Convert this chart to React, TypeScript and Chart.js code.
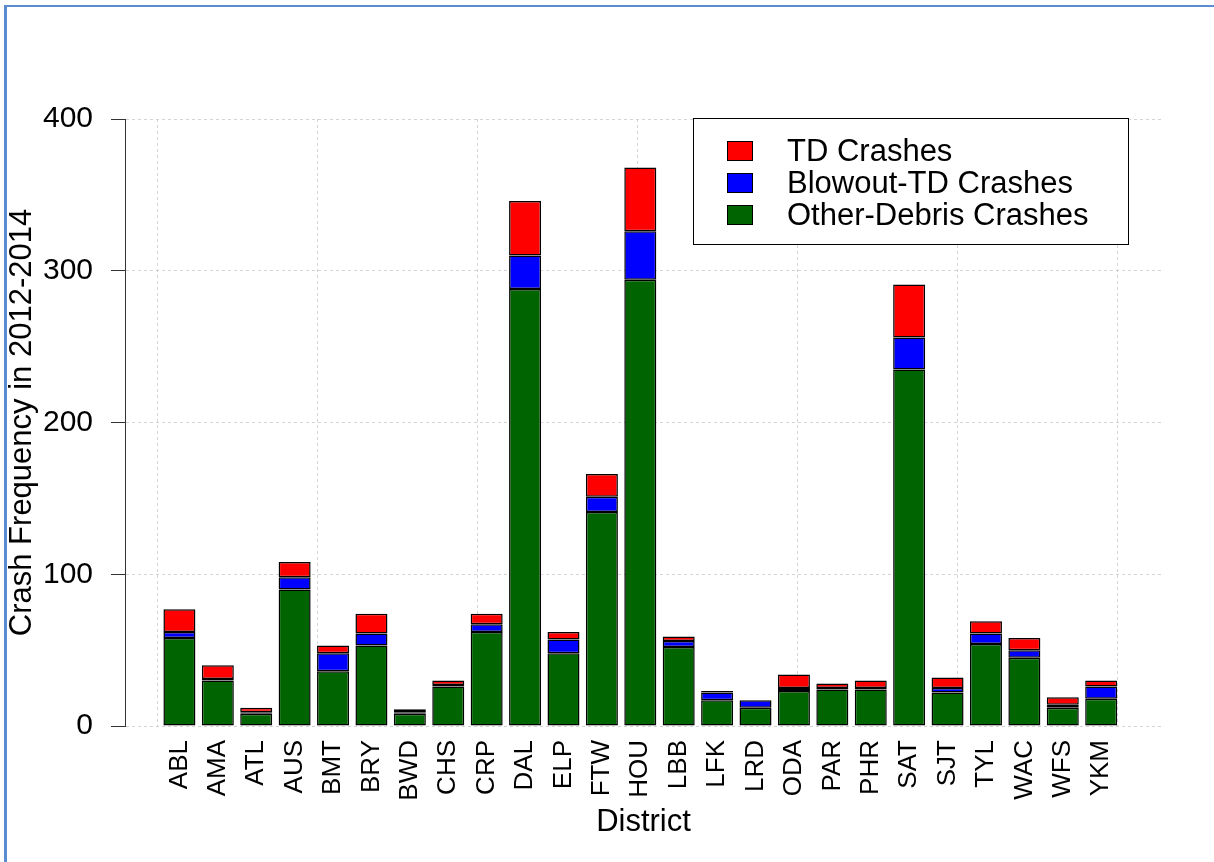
import React, { useEffect, useRef } from 'react';
import { Chart, registerables } from 'chart.js';

Chart.register(...registerables);

const districts = ['ABL', 'AMA', 'ATL', 'AUS', 'BMT', 'BRY', 'BWD', 'CHS', 'CRP', 'DAL', 'ELP', 'FTW', 'HOU', 'LBB', 'LFK', 'LRD', 'ODA', 'PAR', 'PHR', 'SAT', 'SJT', 'TYL', 'WAC', 'WFS', 'YKM'];
const otherDebrisCrashes = [58, 30, 8, 90, 36, 53, 8, 26, 62, 288, 48, 141, 294, 52, 17, 12, 23, 24, 24, 235, 22, 54, 45, 12, 18];
const blowoutTDCrashes = [4, 1, 1, 8, 12, 8, 1, 1, 5, 22, 9, 10, 32, 4, 5, 5, 2, 1, 1, 21, 3, 7, 5, 2, 8];
const tdCrashes = [15, 9, 3, 10, 5, 13, 2, 3, 7, 36, 5, 15, 42, 3, 1, 0, 9, 3, 5, 35, 7, 8, 8, 5, 4];
const yTickValues = [0, 100, 200, 300, 400];
const xGridValues = [0, 5, 10, 15, 20, 25, 30];
const seriesLabels = ['Other-Debris Crashes', 'Blowout-TD Crashes', 'TD Crashes'];
const seriesColors = ['#006400', '#0000FF', '#FF0000'];

// R barplot coordinate system: bar width 1, space 0.2
const BAR_SPACE = 0.2;
const barCenter = (i: number) => BAR_SPACE + 0.5 + i * (1 + BAR_SPACE);
const X_MIN = -1.0;
const X_MAX = 31.4;

const FONT = "'Liberation Sans', Arial, Helvetica, sans-serif";

const framePlugin = {
  id: 'frame',
  beforeDraw(chart: any) {
    const ctx = chart.ctx;
    ctx.save();
    ctx.fillStyle = '#FFFFFF';
    ctx.fillRect(0, 0, chart.width, chart.height);
    ctx.restore();
  },
  afterDraw(chart: any) {
    const ctx = chart.ctx;
    ctx.save();
    ctx.fillStyle = '#5B8BD0';
    ctx.fillRect(4, 5, chart.width - 4, 2);
    ctx.fillRect(4, 5, 3, chart.height - 5);
    ctx.restore();
  },
};

const boxLegendPlugin = {
  id: 'boxLegend',
  afterDraw(chart: any) {
    const ctx = chart.ctx;
    const bx = 693;
    const by = 118;
    const bw = 435;
    const bh = 126;
    ctx.save();
    ctx.fillStyle = '#FFFFFF';
    ctx.fillRect(bx, by, bw, bh);
    ctx.strokeStyle = '#000000';
    ctx.lineWidth = 1;
    ctx.strokeRect(bx + 0.5, by + 0.5, bw, bh);
    const items = chart.data.datasets.slice().reverse();
    items.forEach((ds: any, k: number) => {
      const cy = 151 + k * 32;
      ctx.fillStyle = ds.backgroundColor;
      ctx.fillRect(727, cy - 10, 25, 20);
      ctx.strokeStyle = '#000000';
      ctx.strokeRect(727.5, cy - 9.5, 25, 19);
      ctx.fillStyle = '#000000';
      ctx.font = `31px ${FONT}`;
      ctx.textBaseline = 'middle';
      ctx.textAlign = 'left';
      ctx.fillText(ds.label, 787, cy + 1);
    });
    ctx.restore();
  },
};

export default function App() {
  const canvasRef = useRef<HTMLCanvasElement | null>(null);

  useEffect(() => {
    if (!canvasRef.current) return;
    const seriesValues = [otherDebrisCrashes, blowoutTDCrashes, tdCrashes];
    const chart = new Chart(canvasRef.current, {
      type: 'bar',
      data: {
        datasets: seriesValues.map((vals, s) => ({
          label: seriesLabels[s],
          data: vals.map((v, i) => ({ x: barCenter(i), y: v })),
          backgroundColor: seriesColors[s],
          borderColor: '#000000',
          borderWidth: 1.5,
          borderSkipped: false,
          barPercentage: 1 / (1 + BAR_SPACE),
          categoryPercentage: 1,
          xAxisID: 'x',
          yAxisID: 'y',
        })),
      },
      options: {
        responsive: false,
        animation: false,
        devicePixelRatio: 1,
        layout: { padding: { top: 119, right: 52, bottom: 0, left: 0 } },
        plugins: {
          legend: { display: false },
          tooltip: { enabled: false },
          title: { display: false },
        },
        scales: {
          x: {
            type: 'linear',
            position: 'bottom',
            stacked: true,
            offset: false,
            min: X_MIN,
            max: X_MAX,
            afterBuildTicks: (s: any) => {
              s.ticks = xGridValues.map((v) => ({ value: v }));
            },
            afterFit: (s: any) => {
              s.height = 0;
            },
            ticks: { display: false },
            grid: { color: '#D3D3D3', lineWidth: 1, drawTicks: false, offset: false },
            border: { display: false, dash: [3, 3] },
          },
          xl: {
            type: 'linear',
            position: 'bottom',
            offset: false,
            min: X_MIN,
            max: X_MAX,
            afterBuildTicks: (s: any) => {
              s.ticks = districts.map((_, i) => ({ value: barCenter(i) }));
            },
            afterFit: (s: any) => {
              s.height = 136;
            },
            ticks: {
              autoSkip: false,
              minRotation: 90,
              maxRotation: 90,
              padding: 14,
              color: '#000000',
              font: { family: FONT, size: 26 },
              callback: (_v: any, i: number) => districts[i],
            },
            grid: { display: false, drawTicks: false, offset: false },
            border: { display: false },
            title: {
              display: true,
              text: 'District',
              color: '#000000',
              font: { family: FONT, size: 31 },
              padding: { top: 0, bottom: 21 },
            },
          },
          y: {
            type: 'linear',
            stacked: true,
            min: 0,
            max: 400,
            afterBuildTicks: (s: any) => {
              s.ticks = yTickValues.map((v) => ({ value: v }));
            },
            afterFit: (s: any) => {
              s.width = 125;
            },
            ticks: {
              color: '#000000',
              padding: 18,
              font: { family: FONT, size: 30 },
            },
            grid: {
              color: '#D3D3D3',
              lineWidth: 1,
              tickColor: '#333333',
              tickLength: 14,
              tickWidth: 1,
              tickBorderDash: [],
            },
            border: { display: true, color: '#333333', width: 1, dash: [3, 3] },
            title: {
              display: true,
              text: 'Crash Frequency in 2012-2014',
              color: '#000000',
              font: { family: FONT, size: 31 },
              padding: { top: 4, bottom: 0 },
            },
          },
        },
      } as any,
      plugins: [framePlugin, boxLegendPlugin],
    });
    return () => chart.destroy();
  }, []);

  return (
    <div style={{ position: 'absolute', left: 0, top: 0, width: 1214, height: 862 }}>
      <canvas ref={canvasRef} width={1214} height={862} style={{ display: 'block' }} />
    </div>
  );
}
